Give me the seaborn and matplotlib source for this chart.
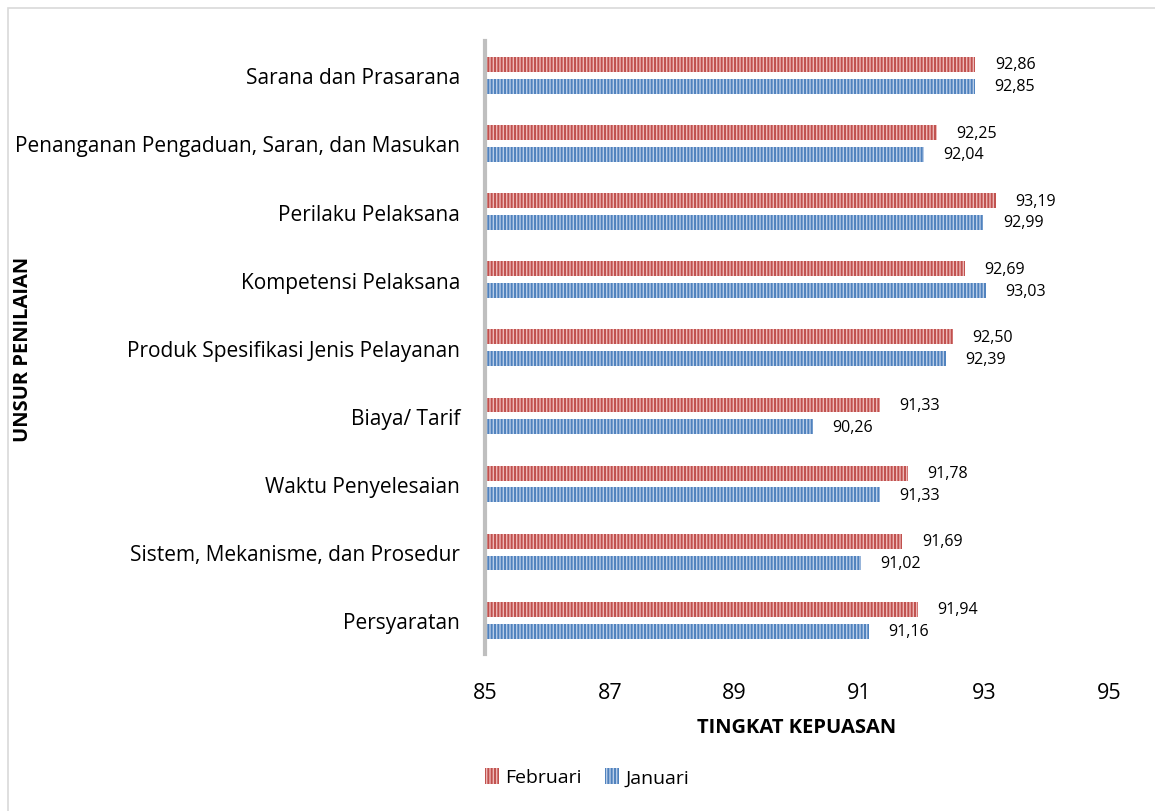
import matplotlib
matplotlib.use("Agg")
import matplotlib.pyplot as plt
import seaborn as sns
import pandas as pd
from matplotlib.patches import Rectangle, Patch

# data (top to bottom)
unsur = ["Sarana dan Prasarana",
         "Penanganan Pengaduan, Saran, dan Masukan",
         "Perilaku Pelaksana",
         "Kompetensi Pelaksana",
         "Produk Spesifikasi Jenis Pelayanan",
         "Biaya/ Tarif",
         "Waktu Penyelesaian",
         "Sistem, Mekanisme, dan Prosedur",
         "Persyaratan"]
februari = [92.86, 92.25, 93.19, 92.69, 92.50, 91.33, 91.78, 91.69, 91.94]
januari = [92.85, 92.04, 92.99, 93.03, 92.39, 90.26, 91.33, 91.02, 91.16]
bulan = ["Februari", "Januari"]
x_ticks = [85, 87, 89, 91, 93, 95]

df = pd.DataFrame({
    "unsur": unsur * 2,
    "nilai": februari + januari,
    "bulan": ["Februari"] * len(unsur) + ["Januari"] * len(unsur),
})

sns.set_style("white")
plt.rcParams["font.family"] = ["Open Sans", "DejaVu Sans"]
plt.rcParams["hatch.linewidth"] = 1.4
plt.rcParams["text.color"] = "black"
plt.rcParams["xtick.color"] = "black"
plt.rcParams["ytick.color"] = "black"
plt.rcParams["axes.labelcolor"] = "black"

dark = {"Februari": "#C0504D", "Januari": "#4F81BD"}
light = {"Februari": "#EDB9B8", "Januari": "#B9CDE8"}

fig = plt.figure(figsize=(11.55, 8.12), dpi=100)
ax = fig.add_axes([0.42, 0.193, 0.540, 0.755])

sns.barplot(data=df, y="unsur", x="nilai", hue="bulan", order=unsur,
            hue_order=bulan, palette=dark, orient="h", width=0.64,
            gap=0.32, ax=ax, legend=False)

for bars, b in zip(ax.containers, bulan):
    for p in bars:
        p.set_facecolor(light[b])
        p.set_edgecolor(dark[b])
        p.set_hatch("|||||")
        p.set_linewidth(0)
    labels = [f"{v:.2f}".replace(".", ",") for v in bars.datavalues]
    ax.bar_label(bars, labels=labels, padding=14, fontsize=11.5)

ax.set_xlim(85, 95)
ax.set_ylim(8.5, -0.5)
ax.set_xticks(x_ticks)
ax.tick_params(axis="x", labelsize=15.5, pad=20, length=0)
ax.tick_params(axis="y", labelsize=15, pad=18, length=0)
for s in ["top", "right", "bottom"]:
    ax.spines[s].set_visible(False)
ax.spines["left"].set_color("#BFBFBF")
ax.spines["left"].set_linewidth(3)

ax.set_xlabel("TINGKAT KEPUASAN", fontsize=14.5, fontweight="bold", labelpad=10)
ax.set_ylabel("")
fig.text(0.02, 0.57, "UNSUR PENILAIAN", rotation=90, ha="center",
         va="center", fontsize=14.5, fontweight="bold")

handles = [Patch(facecolor=light[b], edgecolor=dark[b], hatch="|||||",
                 linewidth=0) for b in bulan]
fig.legend(handles, bulan, loc="center", bbox_to_anchor=(0.508, 0.042),
           ncol=2, frameon=False, fontsize=14, handlelength=0.75,
           handleheight=0.9, handletextpad=0.3, columnspacing=1.2)

fig.patches.append(Rectangle((8 / 1155, -0.01), 1.02, 1 - 9 / 812 + 0.01,
                             transform=fig.transFigure, fill=False,
                             edgecolor="#D9D9D9", linewidth=1.2))

fig.savefig("out.png", dpi=100)
